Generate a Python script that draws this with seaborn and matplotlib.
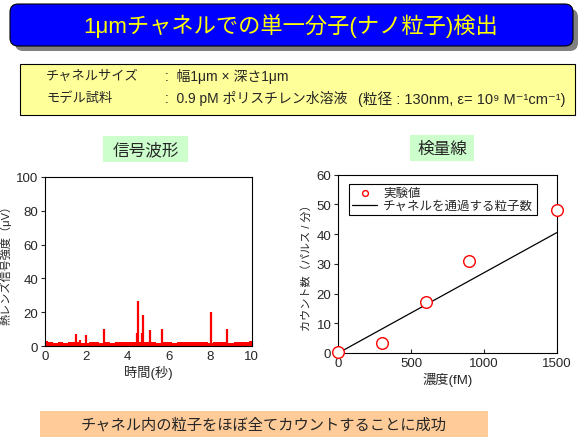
import matplotlib
matplotlib.use("Agg")
import matplotlib.pyplot as plt
from matplotlib.patches import FancyBboxPatch, Rectangle
import seaborn as sns
import numpy as np
import pandas as pd

# signal waveform (left panel)
spike_time = [1.5, 1.7, 2.0, 2.85, 4.45, 4.5, 4.7, 4.75, 5.1, 5.65, 8.05, 8.8]
spike_height = [7, 3.5, 6.5, 10, 8, 26.5, 8, 18.5, 9.5, 10, 20.5, 10]
baseline_time = np.arange(0, 10.01, 0.25)
baseline_top = [3, 2.5, 2.2, 2.6, 2.0, 2.3, 2.4, 2.1, 2.2, 2.5, 2.3, 2.0,
                2.4, 2.2, 2.6, 2.3, 2.5, 2.8, 2.4, 2.6, 2.7, 2.3, 2.2, 2.4,
                2.5, 2.2, 2.3, 2.4, 2.6, 2.7, 2.5, 2.4, 2.2, 2.3, 2.5, 2.4,
                2.2, 2.4, 2.3, 2.5, 3.0]

# calibration (right panel)
conc = [0, 300, 600, 900, 1500]
counts = [0.5, 3.5, 17, 31, 48]
line_conc = [0, 1500]
line_counts = [0, 40.5]

sns.set_style("ticks")
plt.rcParams['font.family'] = ['Liberation Sans', 'Noto Sans CJK JP', 'DejaVu Sans']
plt.rcParams['axes.edgecolor'] = 'black'
plt.rcParams['axes.linewidth'] = 0.8

W, H = 583, 439
fig = plt.figure(figsize=(W / 100, H / 100), dpi=100)


def fbox(x0, y0, x1, y1):
    # pixel box (from top-left) -> figure fraction
    return x0 / W, 1 - y1 / H, (x1 - x0) / W, (y1 - y0) / H


def add_box(x0, y0, x1, y1, fc, ec='none', lw=0.0, rounded=False, z=0):
    x, y, w, h = fbox(x0, y0, x1, y1)
    if rounded:
        p = FancyBboxPatch((x, y), w, h, boxstyle="round,pad=0,rounding_size=0.014",
                           mutation_aspect=W / H, transform=fig.transFigure,
                           fc=fc, ec=ec, lw=lw, zorder=z)
    else:
        p = Rectangle((x, y), w, h, transform=fig.transFigure,
                      fc=fc, ec=ec, lw=lw, zorder=z)
    fig.add_artist(p)


# title banner with shadow
add_box(15, 10, 578, 52, '#808080', rounded=True, z=0)
add_box(10, 5, 573, 47, '#0000FF', ec='black', lw=0.8, rounded=True, z=1)
fig.text(291 / W, 1 - 26 / H, '1μmチャネルでの単一分子(ナノ粒子)検出',
         ha='center', va='center', color='#FFFF00', fontsize=16, zorder=2)

# info box
add_box(20, 65, 575, 116, '#FFFF99', ec='black', lw=0.8)
fig.text(46 / W, 1 - 77 / H, 'チャネルサイズ', va='center', fontsize=9.5)
fig.text(165 / W, 1 - 77 / H, ':  幅1μm × 深さ1μm', va='center', fontsize=10)
fig.text(46 / W, 1 - 99 / H, 'モデル試料', va='center', fontsize=9.5)
fig.text(165 / W, 1 - 99 / H, ':  0.9 pM ポリスチレン水溶液',
         va='center', fontsize=10)
fig.text(565 / W, 1 - 99 / H, '(粒径 : 130nm, ε= 10⁹ M⁻¹cm⁻¹)',
         ha='right', va='center', fontsize=10.5)

# panel headers
add_box(103, 137, 188, 163, '#CCFFCC')
fig.text(145.5 / W, 1 - 150 / H, '信号波形', ha='center', va='center', fontsize=12)
add_box(410, 136, 474, 162, '#CCFFCC')
fig.text(442 / W, 1 - 149 / H, '検量線', ha='center', va='center', fontsize=12)

# bottom banner
add_box(40, 412, 488, 438, '#FFCC99')
fig.text(264 / W, 1 - 425 / H, 'チャネル内の粒子をほぼ全てカウントすることに成功',
         ha='center', va='center', fontsize=11)

# left panel: signal waveform
ax1 = fig.add_axes(fbox(45, 177.7, 251.7, 347.3))
ax1.fill_between(baseline_time, 0, baseline_top, color='red', lw=0, step='mid')
ax1.vlines(spike_time, 0, spike_height, color='red', lw=1.6)
ax1.set_xlim(0, 10)
ax1.set_ylim(0, 100)
ax1.set_xticks(np.arange(0, 11, 2))
ax1.set_yticks(np.arange(0, 101, 20))
ax1.set_xlabel('時間(秒)', fontsize=9.5, labelpad=2)
ax1.set_ylabel('熱レンズ信号強度（μV）', fontsize=8, labelpad=3)

# right panel: calibration
ax2 = fig.add_axes(fbox(338.3, 175.7, 556.7, 354))
df_pts = pd.DataFrame({'conc': conc, 'counts': counts})
df_line = pd.DataFrame({'conc': line_conc, 'counts': line_counts})
sns.lineplot(data=df_line, x='conc', y='counts', color='black', lw=0.9, ax=ax2,
             label='チャネルを通過する粒子数', zorder=2)
sns.scatterplot(data=df_pts, x='conc', y='counts', marker='o', s=70,
                facecolor='white', edgecolor='red', linewidth=1.0, ax=ax2,
                label='実験値', zorder=3, clip_on=False)
ax2.set_xlim(0, 1500)
ax2.set_ylim(0, 60)
ax2.set_xticks([0, 500, 1000, 1500])
ax2.set_yticks(np.arange(0, 61, 10))
ax2.set_xlabel('濃度(fM)', fontsize=9.5, labelpad=2)
ax2.set_ylabel('カウント数（パルス / 分）', fontsize=8, labelpad=3)
h, l = ax2.get_legend_handles_labels()
leg = ax2.legend([h[1], h[0]], [l[1], l[0]], loc='upper left',
                 bbox_to_anchor=(0.049, 0.948), borderaxespad=0, fontsize=9,
                 frameon=True, fancybox=False, framealpha=1, edgecolor='black',
                 handlelength=2.0, borderpad=0.25, labelspacing=0.1,
                 handletextpad=0.5, markerscale=0.5)
leg.get_frame().set_linewidth(0.8)

for ax in (ax1, ax2):
    for s in ax.spines.values():
        s.set_visible(True)
        s.set_color('black')
    ax.tick_params(axis='x', direction='in', length=3, labelsize=9.5, pad=3)
    ax.tick_params(axis='y', direction='out', length=3, labelsize=9.5, pad=2)

fig.savefig('out.png', dpi=100)
